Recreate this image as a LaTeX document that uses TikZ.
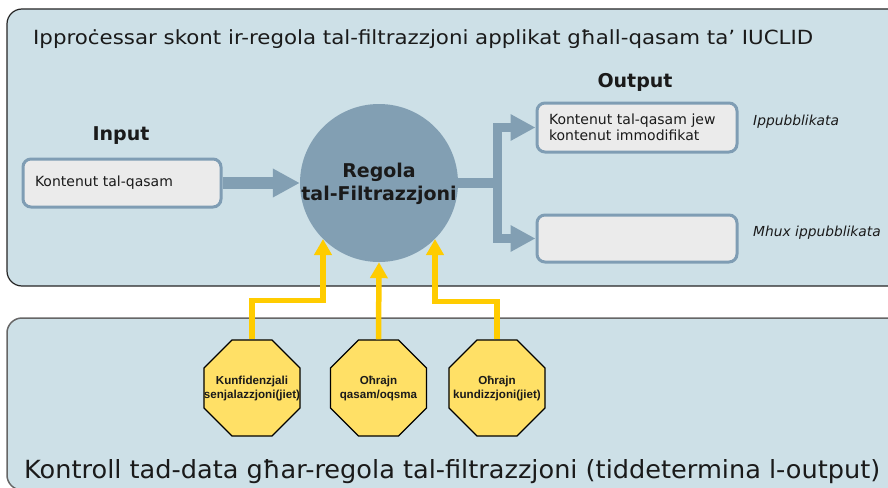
\documentclass[tikz,border=0pt]{standalone}
\usepackage{fontspec}
\usepackage{graphicx}
\setmainfont{DejaVu Sans}
\newfontfamily\octfont{Liberation Sans}
\usetikzlibrary{arrows.meta,shapes.geometric}
\definecolor{panel}{HTML}{CDE0E7}
\definecolor{cblue}{HTML}{829FB3}
\definecolor{boxfill}{HTML}{EBEBEB}
\definecolor{boxline}{HTML}{7F9DB4}
\definecolor{yel}{HTML}{FFCC00}
\definecolor{octy}{HTML}{FFE066}
\definecolor{ink}{HTML}{1A1A1A}
\begin{document}
\begin{tikzpicture}[x=1pt,y=-1pt,
  panelbox/.style={fill=panel, rounded corners=15},
  contentbox/.style={draw=boxline, fill=boxfill, line width=3, rounded corners=8,
    inner xsep=12, inner ysep=0, align=left, text=ink,
    font=\fontsize{14}{16}\selectfont},
  octbox/.style={regular polygon, regular polygon sides=8, minimum size=104,
    inner sep=0, fill=octy, draw=black, line width=1.3},
  octtext/.style={align=center, inner sep=0, text=ink,
    font=\octfont\bfseries\fontsize{11.6}{14}\selectfont},
  headlbl/.style={text=ink, font=\bfseries\fontsize{19}{22}\selectfont},
  sidelbl/.style={anchor=west, inner sep=0, text=ink, font=\itshape\fontsize{13.8}{16}\selectfont},
  yarrow/.style={draw=yel, line width=5.5, -{Triangle[width=17pt,length=16pt]}},
  barrowbig/.style={draw=cblue, line width=12, -{Triangle[width=27pt,length=27pt]}},
  barrowsmall/.style={draw=cblue, line width=9.5, -{Triangle[width=25pt,length=25pt]}},
  bshaft/.style={draw=cblue, line width=9.5}
]
\useasboundingbox (0,0) rectangle (888,487);
\clip (0,0) rectangle (888,487);
% panels
\path[panelbox, draw=black!85, line width=1.2] (7,9) rectangle (930,286);
\path[panelbox, draw=black!60, line width=1.5] (7,318) rectangle (930,490);
% title and footer
\node[anchor=base west, inner sep=0, text=ink] (title) at (33,45)
  {\fontsize{19.5}{22}\selectfont\resizebox{780pt}{\height}{Ipproċessar skont ir-regola tal-filtrazzjoni applikat għall-qasam ta’ IUCLID}};
\node[anchor=base west, inner sep=0, text=ink] (foot) at (24,478)
  {\fontsize{25}{28}\selectfont\resizebox{856pt}{\height}{Kontroll tad-data għar-regola tal-filtrazzjoni (tiddetermina l-output)}};
% labels
\node[headlbl] (inlbl) at (121,136) {Input};
\node[headlbl] (outlbl) at (635,82) {Output};
% filter rule circle
\node[circle, fill=cblue, minimum size=158, inner sep=0] (c) at (379,183) {};
\node[align=center, inner sep=0, text=ink, font=\bfseries\fontsize{19}{23}\selectfont]
  (ctext) at (379,184) {Regola\\tal-Filtrazzjoni};
% boxes
\node[contentbox, minimum width=198, minimum height=48, text width=174] (inbox) at (122,183) {Kontenut tal-qasam};
\node[contentbox, minimum width=200, minimum height=49, text width=176] (out1) at (637,127.5) {Kontenut tal-qasam jew\\kontenut immodifikat};
\node[contentbox, minimum width=200, minimum height=47, text width=176] (out2) at (637,238.5) {};
\node[sidelbl] (pub) at (753,122) {Ippubblikata};
\node[sidelbl] (nopub) at (753,233) {Mhux ippubblikata};
% blue arrows
\draw[barrowbig] (inbox.east) -- (c.west);
\coordinate (j) at (497.5,183);
\draw[bshaft] (c.east) -- (j);
\draw[barrowsmall] (j) |- (out1.west);
\draw[barrowsmall] (j) |- (out2.west);
% octagons
\node[octbox] (k1) at (252,388) {};
\node[octbox] (k2) at (378.5,388) {};
\node[octbox] (k3) at (497,388) {};
\node[octtext] (t1) at (k1.center) {Kunfidenzjali\\senjalazzjoni(jiet)};
\node[octtext] (t2) at (k2.center) {Oħrajn\\qasam/oqsma};
\node[octtext] (t3) at (k3.center) {Oħrajn\\kundizzjoni(jiet)};
% yellow arrows
\draw[yarrow] (k1.north) -- ++(0,-39) -| (c.225);
\draw[yarrow] (k2.north) -- (c.south);
\draw[yarrow] (k3.north) -- ++(0,-38) -| (c.315);
\end{tikzpicture}
\end{document}
